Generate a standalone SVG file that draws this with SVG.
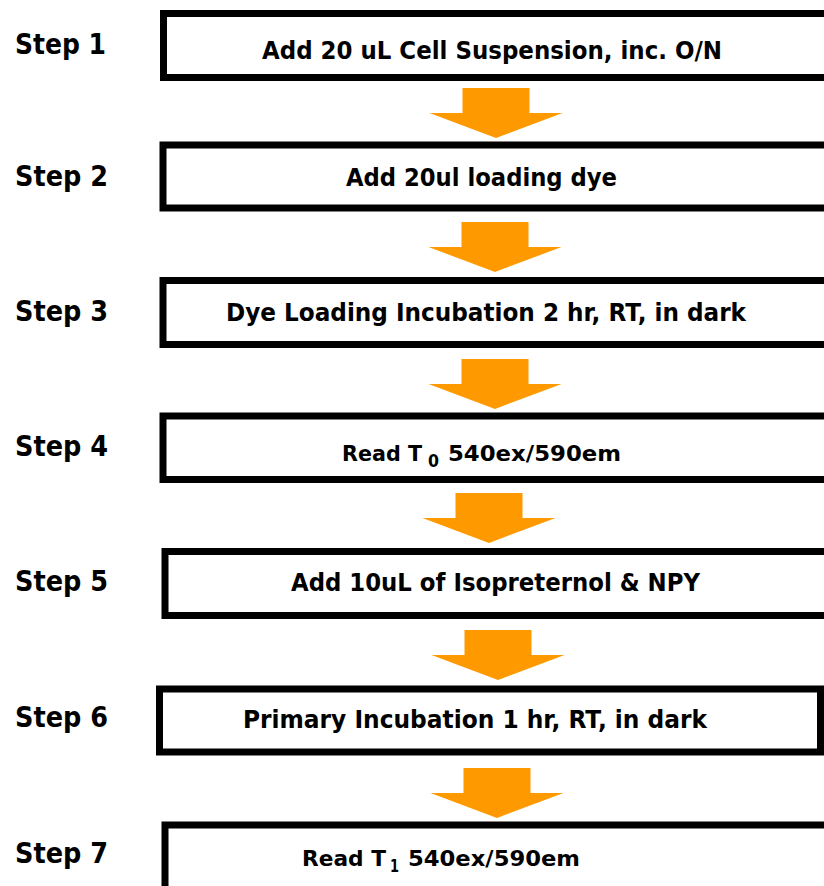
<svg xmlns="http://www.w3.org/2000/svg" width="824" height="886" viewBox="0 0 824 886">
  <defs>
    <style>
      .box { fill: #ffffff; stroke: #000000; stroke-width: 7; }
      .arrow { fill: #ff9900; }
      .step { font-family: "DejaVu Sans", Verdana, sans-serif; font-weight: bold; font-size: 28px; fill: #000000; }
      .label { font-family: "DejaVu Sans", Verdana, sans-serif; font-weight: bold; font-size: 24px; fill: #000000; }
      .read { font-family: "DejaVu Sans", Verdana, sans-serif; font-weight: bold; font-size: 22px; fill: #000000; }
      .sub { font-family: "DejaVu Sans", Verdana, sans-serif; font-weight: bold; font-size: 18px; fill: #000000; }
    </style>
    <!-- block arrow pointing down, origin at the top centre of the stem -->
    <polygon id="down" points="-33.5,0 33.5,0 33.5,25 66.5,25 0,50 -66.5,25 -33.5,25"/>
  </defs>

  <rect width="824" height="886" fill="#ffffff"/>

  <!-- step labels -->
  <g id="step-labels">
    <text class="step" x="15" y="54" textLength="91" lengthAdjust="spacingAndGlyphs">Step 1</text>
    <text class="step" x="15" y="186" textLength="93" lengthAdjust="spacingAndGlyphs">Step 2</text>
    <text class="step" x="15" y="321" textLength="93" lengthAdjust="spacingAndGlyphs">Step 3</text>
    <text class="step" x="15" y="456" textLength="93" lengthAdjust="spacingAndGlyphs">Step 4</text>
    <text class="step" x="15" y="591" textLength="93" lengthAdjust="spacingAndGlyphs">Step 5</text>
    <text class="step" x="15" y="727" textLength="93" lengthAdjust="spacingAndGlyphs">Step 6</text>
    <text class="step" x="15" y="863" textLength="93" lengthAdjust="spacingAndGlyphs">Step 7</text>
  </g>

  <!-- connectors between steps -->
  <g id="connectors">
    <use href="#down" class="arrow" x="496" y="88"/>
    <use href="#down" class="arrow" x="495" y="222"/>
    <use href="#down" class="arrow" x="495" y="359"/>
    <use href="#down" class="arrow" x="489" y="493"/>
    <use href="#down" class="arrow" x="498" y="630"/>
    <use href="#down" class="arrow" x="497" y="768"/>
  </g>

  <g id="step1">
    <rect class="box" x="163.5" y="13.5" width="664" height="64"/>
    <text class="label" x="262" y="59" textLength="460" lengthAdjust="spacingAndGlyphs">Add 20 uL Cell Suspension, inc. O/N</text>
  </g>

  <g id="step2">
    <rect class="box" x="163" y="145" width="664.5" height="63"/>
    <text class="label" x="346" y="186" textLength="271" lengthAdjust="spacingAndGlyphs">Add 20ul loading dye</text>
  </g>

  <g id="step3">
    <rect class="box" x="163" y="280.5" width="664.5" height="64"/>
    <text class="label" x="226" y="321" textLength="520" lengthAdjust="spacingAndGlyphs">Dye Loading Incubation 2 hr, RT, in dark</text>
  </g>

  <g id="step4">
    <rect class="box" x="163" y="416" width="664.5" height="63.5"/>
    <text class="read" x="342" y="461" textLength="80" lengthAdjust="spacingAndGlyphs">Read T</text>
    <text class="sub" x="428" y="467" textLength="11" lengthAdjust="spacingAndGlyphs">0</text>
    <text class="read" x="448" y="461" textLength="173" lengthAdjust="spacingAndGlyphs">540ex/590em</text>
  </g>

  <g id="step5">
    <rect class="box" x="165" y="551.5" width="662.5" height="64"/>
    <text class="label" x="291" y="591" textLength="409" lengthAdjust="spacingAndGlyphs">Add 10uL of Isopreternol &amp; NPY</text>
  </g>

  <g id="step6">
    <rect class="box" x="159.5" y="689" width="661" height="63"/>
    <text class="label" x="243" y="728" textLength="464" lengthAdjust="spacingAndGlyphs">Primary Incubation 1 hr, RT, in dark</text>
  </g>

  <g id="step7">
    <rect class="box" x="165" y="825" width="662.5" height="70"/>
    <text class="read" x="302" y="866" textLength="84" lengthAdjust="spacingAndGlyphs">Read T</text>
    <text class="sub" x="390" y="872" textLength="9" lengthAdjust="spacingAndGlyphs">1</text>
    <text class="read" x="408" y="866" textLength="172" lengthAdjust="spacingAndGlyphs">540ex/590em</text>
  </g>
</svg>
